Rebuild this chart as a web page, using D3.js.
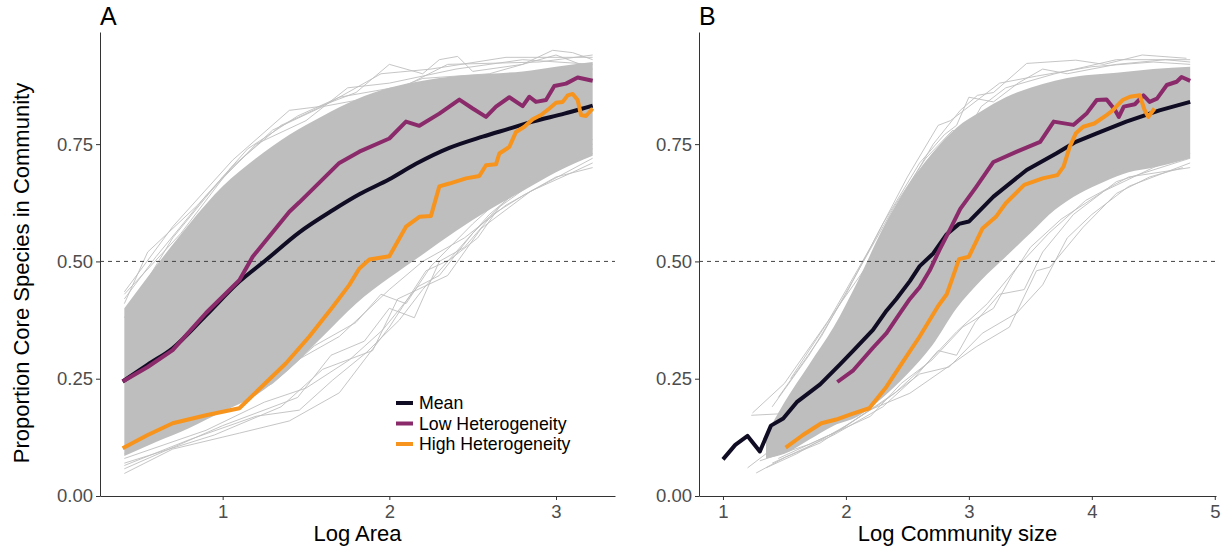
<!DOCTYPE html>
<html>
<head>
<meta charset="utf-8">
<script src="https://cdnjs.cloudflare.com/ajax/libs/d3/7.8.5/d3.min.js"></script>
<style>
  body { margin: 0; background: #fff; font-family: "Liberation Sans", Arial, sans-serif; }
</style>
</head>
<body>
<script>
// ---- panel A : Log Area ----
var areaBandX    = [0.41, 0.6, 0.8, 1.0, 1.2, 1.4, 1.6, 1.8, 2.0, 2.2, 2.4, 2.6, 2.8, 3.0, 3.22];
var areaBandHigh = [0.40, 0.49, 0.58, 0.66, 0.72, 0.77, 0.81, 0.845, 0.87, 0.885, 0.895, 0.90, 0.905, 0.915, 0.925];
var areaBandLow  = [0.085, 0.115, 0.145, 0.18, 0.215, 0.27, 0.34, 0.41, 0.465, 0.515, 0.565, 0.61, 0.65, 0.69, 0.725];

var areaMean = [[0.40,0.244],[0.55,0.28],[0.70,0.315],[0.90,0.385],[1.10,0.457],[1.26,0.503],[1.46,0.562],
  [1.66,0.609],[1.82,0.643],[2.0,0.675],[2.16,0.708],[2.36,0.742],[2.56,0.766],[2.72,0.783],[2.86,0.798],
  [3.05,0.815],[3.20,0.830],[3.22,0.832]];
var areaLow = [[0.40,0.244],[0.55,0.275],[0.70,0.311],[0.90,0.39],[1.10,0.46],[1.18,0.51],[1.40,0.606],
  [1.46,0.626],[1.70,0.71],[1.82,0.734],[2.0,0.762],[2.10,0.798],[2.18,0.789],[2.30,0.815],[2.42,0.845],
  [2.50,0.826],[2.58,0.808],[2.64,0.83],[2.72,0.85],[2.80,0.831],[2.84,0.851],[2.88,0.84],[2.94,0.844],
  [2.99,0.874],[3.06,0.879],[3.13,0.892],[3.22,0.885]];
var areaHigh = [[0.40,0.102],[0.55,0.13],[0.70,0.155],[0.90,0.172],[1.10,0.187],[1.24,0.235],[1.38,0.283],
  [1.52,0.34],[1.66,0.403],[1.76,0.45],[1.82,0.485],[1.88,0.504],[2.0,0.511],[2.10,0.574],[2.18,0.595],
  [2.25,0.597],[2.30,0.66],[2.36,0.666],[2.46,0.677],[2.54,0.682],[2.58,0.705],[2.64,0.707],[2.66,0.73],
  [2.72,0.744],[2.76,0.776],[2.81,0.787],[2.86,0.803],[2.91,0.812],[2.96,0.826],[3.0,0.838],[3.04,0.84],
  [3.07,0.854],[3.10,0.857],[3.13,0.844],[3.15,0.812],[3.18,0.81],[3.22,0.826]];

var areaStrands = [
  [[0.41,0.435],[0.70,0.574],[1.06,0.716],[1.40,0.822],[1.58,0.83],[1.80,0.86],[2.0,0.92],[2.2,0.90],[2.3,0.93],[2.41,0.937],[2.5,0.905],[2.8,0.92],[2.98,0.95],[3.1,0.945],[3.22,0.93]],
  [[0.41,0.42],[0.60,0.51],[0.90,0.64],[1.20,0.75],[1.50,0.80],[1.75,0.87],[2.0,0.88],[2.4,0.91],[2.8,0.93],[3.22,0.92]],
  [[0.41,0.38],[0.70,0.55],[1.0,0.68],[1.30,0.78],[1.60,0.83],[1.90,0.85],[2.2,0.89],[2.6,0.90],[3.0,0.94],[3.22,0.91]],
  [[0.41,0.43],[0.75,0.56],[1.05,0.70],[1.35,0.79],[1.65,0.84],[1.95,0.90],[2.25,0.91],[2.7,0.935],[3.22,0.935]],
  [[0.41,0.41],[0.55,0.52],[0.85,0.62],[1.15,0.74],[1.45,0.81],[1.7,0.85],[2.1,0.875],[2.35,0.92],[2.9,0.925],[3.22,0.94]],
  [[0.41,0.048],[0.70,0.10],[1.10,0.134],[1.40,0.16],[1.70,0.22],[2.0,0.36],[2.22,0.48],[2.36,0.503],[2.53,0.55],[2.66,0.616],[2.86,0.667],[3.04,0.70],[3.22,0.73]],
  [[0.41,0.065],[0.80,0.12],[1.20,0.17],[1.46,0.183],[1.66,0.247],[1.86,0.305],[2.06,0.375],[2.2,0.44],[2.4,0.52],[2.6,0.60],[2.9,0.69],[3.22,0.75]],
  [[0.41,0.08],[0.90,0.14],[1.25,0.20],[1.50,0.23],[1.76,0.29],[1.96,0.354],[2.17,0.446],[2.3,0.47],[2.5,0.56],[2.7,0.63],[3.0,0.71],[3.22,0.74]],
  [[0.41,0.058],[1.0,0.15],[1.45,0.21],[1.65,0.30],[1.85,0.33],[2.0,0.40],[2.15,0.38],[2.3,0.50],[2.45,0.53],[2.62,0.60],[2.8,0.64],[3.22,0.72]],
  [[0.41,0.10],[0.85,0.16],[1.30,0.24],[1.55,0.32],[1.80,0.37],[1.95,0.43],[2.1,0.41],[2.25,0.49],[2.5,0.58],[2.75,0.66],[3.22,0.76]],
  [[0.41,0.07],[0.95,0.13],[1.35,0.19],[1.6,0.27],[1.9,0.31],[2.05,0.42],[2.35,0.47],[2.55,0.57],[2.85,0.65],[3.1,0.69],[3.22,0.71]],
  [[0.41,0.09],[0.75,0.15],[1.15,0.22],[1.45,0.29],[1.7,0.34],[2.0,0.44],[2.2,0.50],[2.45,0.55],[2.7,0.62],[3.0,0.68],[3.22,0.70]]
];

// ---- panel B : Log Community size ----
var sizeBandX    = [1.35, 1.5, 1.7, 1.9, 2.1, 2.3, 2.5, 2.7, 2.9, 3.1, 3.3, 3.5, 3.7, 3.9, 4.1, 4.3, 4.5, 4.8];
var sizeBandHigh = [0.13, 0.20, 0.28, 0.36, 0.46, 0.57, 0.66, 0.73, 0.785, 0.82, 0.85, 0.87, 0.885, 0.895, 0.90, 0.905, 0.91, 0.915];
var sizeBandLow  = [0.08, 0.09, 0.12, 0.15, 0.17, 0.21, 0.26, 0.32, 0.40, 0.46, 0.51, 0.56, 0.61, 0.645, 0.67, 0.69, 0.70, 0.72];

var sizeMean = [[1.0,0.078],[1.1,0.109],[1.2,0.128],[1.3,0.095],[1.39,0.15],[1.49,0.165],[1.6,0.20],
  [1.79,0.238],[1.95,0.28],[2.06,0.31],[2.22,0.354],[2.33,0.395],[2.41,0.42],[2.52,0.458],[2.6,0.49],
  [2.71,0.517],[2.82,0.558],[2.92,0.58],[3.0,0.585],[3.2,0.638],[3.47,0.695],[3.71,0.73],[3.87,0.755],
  [4.04,0.773],[4.28,0.798],[4.55,0.822],[4.8,0.84]];
var sizeLow = [[1.93,0.243],[2.06,0.268],[2.22,0.316],[2.33,0.347],[2.44,0.39],[2.52,0.42],[2.6,0.445],
  [2.68,0.48],[2.76,0.524],[2.85,0.57],[2.93,0.612],[3.06,0.659],[3.2,0.712],[3.39,0.734],[3.58,0.755],
  [3.69,0.798],[3.85,0.791],[3.96,0.816],[4.04,0.844],[4.12,0.845],[4.19,0.822],[4.22,0.808],[4.26,0.83],
  [4.35,0.835],[4.42,0.854],[4.47,0.84],[4.53,0.847],[4.61,0.876],[4.69,0.883],[4.73,0.893],[4.8,0.885]];
var sizeHigh = [[1.51,0.103],[1.65,0.13],[1.8,0.155],[1.92,0.163],[2.05,0.175],[2.19,0.187],[2.33,0.233],
  [2.46,0.285],[2.6,0.34],[2.75,0.405],[2.82,0.43],[2.87,0.467],[2.92,0.505],[3.0,0.51],[3.11,0.57],
  [3.22,0.595],[3.3,0.624],[3.45,0.663],[3.6,0.677],[3.72,0.684],[3.77,0.702],[3.82,0.744],[3.87,0.773],
  [3.93,0.787],[4.02,0.794],[4.12,0.812],[4.17,0.822],[4.21,0.833],[4.25,0.844],[4.31,0.851],[4.39,0.854],
  [4.43,0.822],[4.46,0.808],[4.51,0.826]];

var sizeStrands = [
  [[1.24,0.177],[1.5,0.24],[1.9,0.39],[2.17,0.49],[2.44,0.63],[2.71,0.75],[2.93,0.822],[3.07,0.854],[3.2,0.86],[3.47,0.922],[3.87,0.929],[4.1,0.92],[4.41,0.94],[4.77,0.933]],
  [[1.4,0.19],[1.7,0.30],[2.0,0.43],[2.3,0.58],[2.6,0.71],[2.8,0.77],[2.9,0.79],[3.0,0.85],[3.2,0.84],[3.4,0.88],[3.6,0.91],[3.8,0.90],[4.2,0.92],[4.6,0.93],[4.8,0.925]],
  [[1.45,0.21],[1.8,0.34],[2.1,0.48],[2.4,0.62],[2.65,0.72],[2.87,0.78],[2.95,0.76],[3.1,0.83],[3.3,0.87],[3.7,0.90],[4.2,0.93],[4.8,0.93]],
  [[1.55,0.25],[1.85,0.37],[2.2,0.53],[2.5,0.68],[2.75,0.79],[2.85,0.80],[3.0,0.83],[3.25,0.88],[3.55,0.895],[4.0,0.915],[4.5,0.925],[4.8,0.92]],
  [[1.23,0.172],[1.45,0.175],[1.6,0.23]],
  [[1.2,0.06],[1.35,0.09],[1.5,0.14]],
  [[1.27,0.049],[1.51,0.083],[1.79,0.113],[2.19,0.183],[2.52,0.219],[2.79,0.268],[3.06,0.318],[3.33,0.36],[3.55,0.48],[3.66,0.488],[3.93,0.573],[4.2,0.645],[4.47,0.68],[4.74,0.70]],
  [[1.35,0.06],[1.6,0.09],[2.0,0.15],[2.3,0.20],[2.6,0.26],[2.84,0.275],[3.11,0.347],[3.39,0.39],[3.6,0.45],[3.8,0.55],[4.0,0.60],[4.3,0.66],[4.6,0.69],[4.8,0.71]],
  [[1.4,0.07],[1.9,0.13],[2.3,0.19],[2.55,0.25],[2.75,0.31],[2.9,0.30],[3.05,0.37],[3.25,0.43],[3.45,0.44],[3.6,0.52],[3.85,0.60],[4.2,0.67],[4.8,0.72]],
  [[1.3,0.075],[1.7,0.11],[2.2,0.17],[2.45,0.24],[2.7,0.29],[2.95,0.36],[3.2,0.40],[3.35,0.47],[3.5,0.53],[3.75,0.59],[4.1,0.65],[4.5,0.70],[4.8,0.73]],
  [[1.45,0.08],[1.95,0.14],[2.4,0.22],[2.65,0.28],[2.9,0.35],[3.15,0.41],[3.4,0.49],[3.65,0.56],[3.95,0.63],[4.3,0.68],[4.8,0.70]]
];

var yTicks = [0, 0.25, 0.5, 0.75];
var legendNames = ["Mean", "Low Heterogeneity", "High Heterogeneity"];
var lineColors = ["#100c24", "#8b2a6b", "#f7941d"];

var width = 1230, height = 552;
var svg = d3.select("body").append("svg")
    .attr("width", width)
    .attr("height", height);

var y = d3.scaleLinear().domain([0, 0.989]).range([496, 32]);

function drawPanel(p) {
    var x = d3.scaleLinear().domain(p.domain).range(p.range);
    var g = svg.append("g");

    var line = d3.line().x(function(d){ return x(d[0]); }).y(function(d){ return y(d[1]); });
    var smoothLine = d3.line().x(function(d){ return x(d[0]); }).y(function(d){ return y(d[1]); })
        .curve(d3.curveMonotoneX);
    var band = d3.area()
        .x(function(d, i){ return x(p.bandX[i]); })
        .y0(function(d, i){ return y(p.bandLow[i]); })
        .y1(function(d, i){ return y(p.bandHigh[i]); })
        .curve(d3.curveMonotoneX);

    // grey cloud of simulated curves
    g.append("path")
        .datum(p.bandX)
        .attr("d", band)
        .attr("fill", "#bebebe");
    g.selectAll(".strand")
        .data(p.strands)
        .enter()
        .append("path")
        .attr("class", "strand")
        .attr("d", line)
        .attr("fill", "none")
        .attr("stroke", "#bebebe")
        .attr("stroke-width", 0.9);

    // 0.5 reference line
    g.append("line")
        .attr("x1", p.range[0]).attr("x2", p.range[1])
        .attr("y1", y(0.5)).attr("y2", y(0.5))
        .attr("stroke", "#444")
        .attr("stroke-width", 1)
        .attr("stroke-dasharray", "4,4");

    // mean, low, high
    [p.mean, p.low, p.high].forEach(function(s, i){
        g.append("path")
            .datum(s)
            .attr("d", (i == 0 && p.smoothMean) ? smoothLine : line)
            .attr("fill", "none")
            .attr("stroke", lineColors[i])
            .attr("stroke-width", 4)
            .attr("stroke-linejoin", "round");
    });

    // axes
    var xAxis = g.append("g")
        .attr("transform", "translate(0,496)")
        .call(d3.axisBottom(x).tickValues(p.xTicks).tickFormat(d3.format("d")).tickSize(4).tickSizeOuter(0).tickPadding(5));
    var yAxis = g.append("g")
        .attr("transform", "translate(" + p.range[0] + ",0)")
        .call(d3.axisLeft(y).tickValues(yTicks).tickFormat(d3.format(".2f")).tickSize(4).tickSizeOuter(0).tickPadding(3));
    [xAxis, yAxis].forEach(function(a){
        a.select(".domain").attr("stroke", "#333");
        a.selectAll(".tick line").attr("stroke", "#333");
        a.selectAll(".tick text")
            .attr("fill", "#4d4d4d")
            .style("font-size", "18.5px")
            .style("font-family", "Liberation Sans, Arial, sans-serif");
    });

    g.append("text")
        .attr("x", (p.range[0] + p.range[1]) / 2)
        .attr("y", 541)
        .attr("text-anchor", "middle")
        .style("font-size", "22px")
        .text(p.title);

    g.append("text")
        .attr("x", p.range[0])
        .attr("y", 25)
        .style("font-size", "25px")
        .text(p.label);
}

drawPanel({
    domain: [0.264, 3.354], range: [100, 615], xTicks: [1, 2, 3],
    bandX: areaBandX, bandLow: areaBandLow, bandHigh: areaBandHigh,
    strands: areaStrands, mean: areaMean, low: areaLow, high: areaHigh,
    smoothMean: true, title: "Log Area", label: "A"
});
drawPanel({
    domain: [0.805, 5.01], range: [699, 1216], xTicks: [1, 2, 3, 4, 5],
    bandX: sizeBandX, bandLow: sizeBandLow, bandHigh: sizeBandHigh,
    strands: sizeStrands, mean: sizeMean, low: sizeLow, high: sizeHigh,
    smoothMean: false, title: "Log Community size", label: "B"
});

// y axis title
svg.append("text")
    .attr("transform", "translate(29,273) rotate(-90)")
    .attr("text-anchor", "middle")
    .style("font-size", "22px")
    .text("Proportion Core Species in Community");

// legend inside panel A
var legend = svg.append("g").attr("transform", "translate(396,403)");
legendNames.forEach(function(name, i){
    legend.append("line")
        .attr("x1", 0).attr("x2", 17)
        .attr("y1", i * 20.5).attr("y2", i * 20.5)
        .attr("stroke", lineColors[i])
        .attr("stroke-width", 4);
    legend.append("text")
        .attr("x", 23)
        .attr("y", i * 20.5)
        .attr("dy", "0.35em")
        .style("font-size", "17.7px")
        .text(name);
});
</script>
</body>
</html>
